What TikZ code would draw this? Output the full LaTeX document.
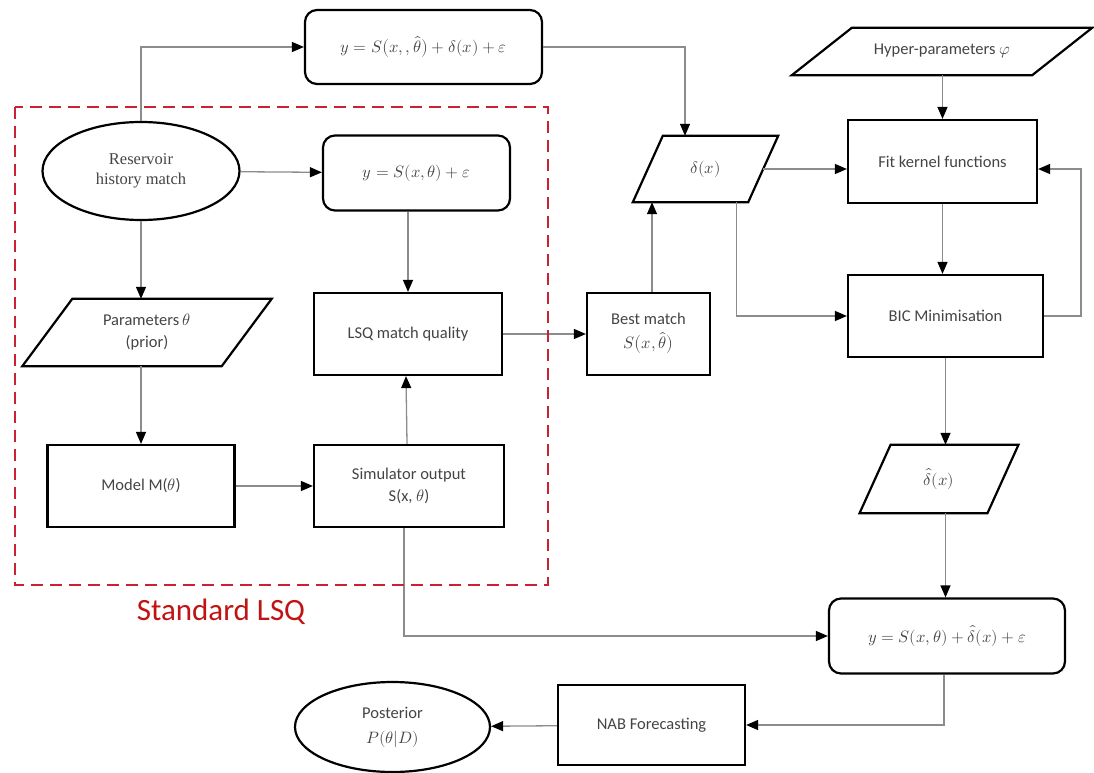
\documentclass[tikz,border=0pt]{standalone}
\usepackage{fontspec}
\usepackage{unicode-math}
\setmainfont{Carlito}
\newfontfamily\serifface{Liberation Serif}
\usetikzlibrary{shapes.geometric,arrows.meta,calc}

\definecolor{inkgray}{RGB}{68,68,68}
\definecolor{wiregray}{RGB}{140,140,140}
\definecolor{lsqred}{RGB}{200,34,52}
\definecolor{titlered}{RGB}{192,20,20}

% parallelogram drawn round a rectangular text node: #1 node name, #2 horizontal slant
\newcommand\slantframe[2]{%
  \draw[black, line width=2.2pt, line join=miter]
    ([xshift=#2/2]#1.north west) -- ([xshift=#2/2]#1.north east) --
    ([xshift=-#2/2]#1.south east) -- ([xshift=-#2/2]#1.south west) -- cycle;}

\begin{document}
\begin{tikzpicture}[x=1pt,y=-1pt,
  font=\fontsize{16.5}{22}\selectfont, text=inkgray,
  box/.style={draw=black, line width=2.2pt, rectangle, inner sep=2pt, align=center},
  rbox/.style={box, rounded corners=12pt},
  oval/.style={draw=black, line width=2.2pt, ellipse, inner sep=0pt, align=center},
  slant/.style={rectangle, inner sep=0pt, align=center},
  wire/.style={draw=wiregray, line width=1.3pt, -{Triangle[length=12pt,width=10pt,color=black]}},
  lsqframe/.style={draw=lsqred, line width=2.5pt, dash pattern=on 12pt off 7pt},
]
\useasboundingbox (0,0) rectangle (1094,773);

% ---- nodes ----
\node[rbox, minimum width=237pt, minimum height=74pt] (topeq) at (423.5,47)
  {$y = S\bigl(x,,\hat{\theta}\bigr) + \delta(x) + \varepsilon$};
\node[oval, minimum width=197pt, minimum height=98pt, font=\serifface\fontsize{16.5}{20}\selectfont] (res) at (141,171)
  {Reservoir\\history match};
\node[rbox, minimum width=187pt, minimum height=75pt] (eq1) at (416.5,173)
  {$y = S(x,\theta) + \varepsilon$};
\node[slant, minimum width=199pt, minimum height=67pt] (param) at (147,332.5)
  {Parameters $\theta$\\(prior)};
\slantframe{param}{50}
\node[box, minimum width=188pt, minimum height=82pt] (lsq) at (408,334) {LSQ match quality};
\node[box, minimum width=187pt, minimum height=82pt] (model) at (141,486) {Model M($\theta$)};
\node[box, minimum width=190pt, minimum height=82pt] (sim) at (409,486)
  {Simulator output\\S(x, $\theta$)};
\node[box, minimum width=123pt, minimum height=82pt, font=\fontsize{16.5}{24}\selectfont] (best) at (648.5,334)
  {Best match\\$S\bigl(x,\hat{\theta}\bigr)$};
\node[slant, minimum width=115pt, minimum height=66pt] (delta) at (705.5,169) {$\delta(x)$};
\slantframe{delta}{30}
\node[slant, minimum width=240pt, minimum height=47pt] (hyper) at (942,51.5) {Hyper-parameters $\varphi$};
\slantframe{hyper}{60}
\node[box, minimum width=189pt, minimum height=83pt] (fit) at (942.5,161.5) {Fit kernel functions};
\node[box, minimum width=195pt, minimum height=82pt] (bic) at (945.5,316) {BIC Minimisation};
\node[slant, minimum width=127.5pt, minimum height=68pt] (dhat) at (939,479) {$\hat{\delta}(x)$};
\slantframe{dhat}{31}
\node[rbox, minimum width=236pt, minimum height=75pt] (beq) at (947,636)
  {$y = S(x,\theta) + \hat{\delta}(x) + \varepsilon$};
\node[box, minimum width=187pt, minimum height=80pt] (nab) at (651.5,725) {NAB Forecasting};
\node[oval, minimum width=195pt, minimum height=90pt, font=\fontsize{16.5}{25}\selectfont] (post) at (392.5,727)
  {Posterior\\$P(\theta|D)$};
\node[text=titlered, font=\fontsize{31}{36}\selectfont] (lsqtitle) at (221,612) {Standard LSQ};

% ---- connectors ----
\draw[wire] (res.north) |- (topeq.west);
\draw[wire] (topeq.east) -| ([xshift=-20.5pt]delta.north);
\draw[wire] (res) -- (eq1);
\draw[wire] (res.south) -- (res.south |- param.north);
\draw[wire] (model.north |- param.south) -- (model.north);
\draw[wire] (lsq.north |- eq1.south) -- (lsq.north);
\draw[wire] (model) -- (sim);
\draw[wire] ([xshift=-2pt]sim.north) -- ([xshift=-2pt]lsq.south);
\draw[wire] (lsq) -- (best);
\draw[wire] ([xshift=3.5pt]best.north) -- ([xshift=3.5pt]best.north |- delta.south);
\draw[wire] (delta.east) -- (delta.east -| fit.west);
\draw[wire] (hyper.south -| fit.north) -- (fit.north);
\draw[wire] (fit.south) -- (fit.south |- bic.north);
\draw[wire] ([xshift=31pt]delta.south) |- (bic.west);
\draw[wire] (bic.east) -- ++(37,0) |- (fit.east |- delta.east);
\draw[wire] (bic.south) -- (bic.south |- dhat.north);
\draw[wire] (bic.south |- dhat.south) -- (bic.south |- beq.north);
\draw[wire] ([xshift=-5pt]sim.south) |- (beq.west);
\draw[wire] ([xshift=-3pt]beq.south) |- (nab.east);
\draw[wire] (nab) -- (post);

% ---- standard least-squares frame ----
\draw[lsqframe] (15,107) rectangle (548,585);
\end{tikzpicture}
\end{document}
